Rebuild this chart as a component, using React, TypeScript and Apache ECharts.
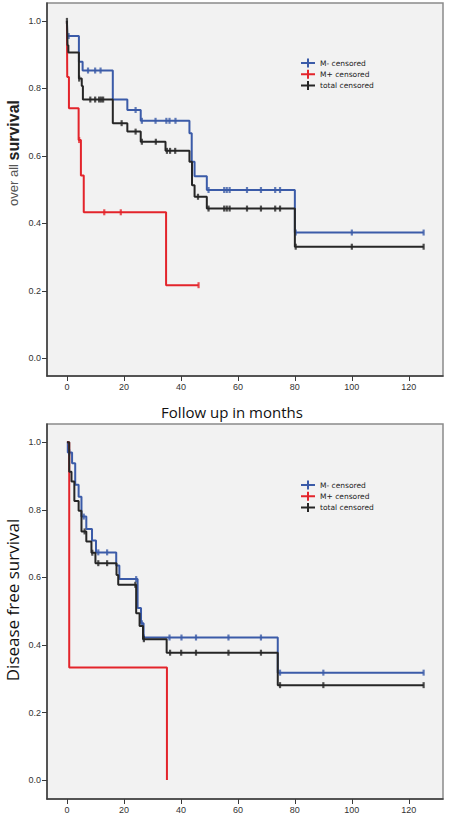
import React, { useEffect, useRef } from 'react';
import * as echarts from 'echarts';

const groupNames = ['M- censored', 'M+ censored', 'total censored'];
const groupColors = ['#3b5ba8', '#e3242b', '#262626'];
const xTickValues = [0, 20, 40, 60, 80, 100, 120];
const yTickValues = [0, 0.2, 0.4, 0.6, 0.8, 1.0];

// Overall survival (top chart)
const osMinusTimes = [0, 0.1, 4.2, 5.5, 16.1, 21.2, 25.9, 43.0, 43.8, 44.8, 49.1, 80.0, 125.2];
const osMinusSurv = [1, 0.955, 0.879, 0.853, 0.767, 0.736, 0.704, 0.667, 0.583, 0.54, 0.499, 0.373, 0.373];
const osMinusCensor = [0.6, 7.4, 9.9, 11.8, 24.1, 26.3, 31.1, 34.9, 36.0, 38.1, 49.7, 55.2, 56.1, 57.1, 63.2, 68.1, 73.1, 74.8, 80.3, 100.0, 125.2];

const osPlusTimes = [0, 0.1, 0.7, 4.1, 4.9, 5.9, 34.8, 46.2];
const osPlusSurv = [1, 0.834, 0.741, 0.647, 0.542, 0.433, 0.217, 0.217];
const osPlusCensor = [4.3, 13.1, 18.9, 46.2];

const osTotalTimes = [0, 0.2, 0.5, 4.2, 5.2, 5.6, 16.1, 21.2, 25.9, 34.6, 43.0, 43.9, 44.8, 49.1, 80.0, 125.2];
const osTotalSurv = [1, 0.928, 0.906, 0.829, 0.807, 0.767, 0.697, 0.672, 0.642, 0.615, 0.583, 0.513, 0.479, 0.444, 0.331, 0.331];
const osTotalCensor = [0, 4.3, 8.2, 9.9, 11.3, 12.0, 12.7, 19.2, 24.1, 26.3, 31.2, 35.1, 36.2, 38.0, 46.0, 49.7, 55.2, 56.1, 57.1, 63.2, 68.1, 73.1, 74.8, 80.3, 100.0, 125.2];

// Disease free survival (bottom chart)
const dfsMinusTimes = [0, 0.3, 1.8, 2.9, 4.1, 5.1, 6.8, 8.8, 10.2, 17.3, 18.4, 24.8, 26.0, 26.9, 74.0, 125.2];
const dfsMinusSurv = [1, 0.97, 0.938, 0.874, 0.839, 0.78, 0.743, 0.709, 0.674, 0.635, 0.595, 0.509, 0.464, 0.422, 0.318, 0.318];
const dfsMinusCensor = [0.8, 5.9, 11.0, 14.1, 24.3, 26.3, 27.0, 36.0, 40.2, 45.3, 56.7, 68.1, 74.8, 90.0, 125.2];

const dfsPlusTimes = [0, 0.8, 35.1];
const dfsPlusSurv = [1, 0.333, 0];
const dfsPlusCensor: number[] = [];

const dfsTotalTimes = [0, 0.8, 1.6, 2.6, 4.1, 5.1, 6.8, 8.6, 10.0, 17.4, 18.0, 24.3, 25.5, 26.7, 35.0, 74.0, 125.2];
const dfsTotalSurv = [1, 0.913, 0.884, 0.826, 0.797, 0.736, 0.706, 0.673, 0.642, 0.607, 0.578, 0.494, 0.456, 0.417, 0.377, 0.281, 0.281];
const dfsTotalCensor = [6.2, 8.9, 11.0, 14.1, 24.0, 27.0, 36.2, 40.1, 45.3, 56.7, 68.1, 74.8, 90.0, 125.2];

function stepAt(times: number[], surv: number[], t: number) {
  let v = surv[0];
  for (let i = 0; i < times.length; i++) if (times[i] <= t) v = surv[i];
  return v;
}

const charts = [
  {
    groups: [
      [osMinusTimes, osMinusSurv, osMinusCensor],
      [osPlusTimes, osPlusSurv, osPlusCensor],
      [osTotalTimes, osTotalSurv, osTotalCensor],
    ],
    grid: { left: 47, top: 3, width: 396, height: 373 },
    yMin: -0.052,
    yMax: 1.053,
    legendTop: 58.5,
  },
  {
    groups: [
      [dfsMinusTimes, dfsMinusSurv, dfsMinusCensor],
      [dfsPlusTimes, dfsPlusSurv, dfsPlusCensor],
      [dfsTotalTimes, dfsTotalSurv, dfsTotalCensor],
    ],
    grid: { left: 47, top: 424, width: 396, height: 375 },
    yMin: -0.056,
    yMax: 1.054,
    legendTop: 480.5,
  },
];

const axisColor = '#3a3a3a';
const labelStyle = { fontSize: 9, color: '#333', fontFamily: 'Liberation Sans' };

export default function App() {
  const ref = useRef<HTMLDivElement>(null);
  useEffect(() => {
    if (!ref.current) return;
    const chart = echarts.init(ref.current, null, { renderer: 'svg' });
    const series: any[] = [];
    charts.forEach((c, ci) => {
      c.groups.forEach((g, gi) => {
        const [times, surv, cens] = g as number[][];
        series.push({
          type: 'line',
          name: groupNames[gi],
          xAxisIndex: ci,
          yAxisIndex: ci,
          step: 'end',
          showSymbol: false,
          symbol: 'none',
          data: times.map((t, i) => [t, surv[i]]),
          lineStyle: { color: groupColors[gi], width: 2 },
          itemStyle: { color: groupColors[gi] },
          z: 2 + (gi === 2 ? 2 : gi === 1 ? 1 : 0),
          silent: true,
        });
        if (cens.length) {
          series.push({
            type: 'scatter',
            name: groupNames[gi] + ' marks',
            xAxisIndex: ci,
            yAxisIndex: ci,
            symbol: 'rect',
            symbolSize: [2.2, 6],
            data: cens.map((t) => [t, stepAt(times, surv, t)]),
            itemStyle: { color: groupColors[gi] },
            z: 3 + (gi === 2 ? 2 : gi === 1 ? 1 : 0),
            silent: true,
          });
        }
      });
    });

    chart.setOption({
      animation: false,
      backgroundColor: '#ffffff',
      grid: charts.map((c) => ({
        ...c.grid,
        show: true,
        backgroundColor: '#f2f2f2',
        borderColor: '#8a8a8a',
        borderWidth: 1.5,
      })),
      xAxis: charts.map((c, ci) => ({
        type: 'value',
        gridIndex: ci,
        min: -7,
        max: 132,
        axisLine: { show: true, onZero: false, lineStyle: { color: axisColor, width: 1.5 } },
        axisTick: { show: true, length: 5, customValues: xTickValues, lineStyle: { color: axisColor } },
        axisLabel: { customValues: xTickValues, margin: 6, ...labelStyle },
        splitLine: { show: false },
      })),
      yAxis: charts.map((c, ci) => ({
        type: 'value',
        gridIndex: ci,
        min: c.yMin,
        max: c.yMax,
        axisLine: { show: true, onZero: false, lineStyle: { color: axisColor, width: 1.5 } },
        axisTick: { show: true, length: 5, customValues: yTickValues, lineStyle: { color: axisColor } },
        axisLabel: {
          customValues: yTickValues,
          formatter: (v: number) => v.toFixed(1),
          margin: 6,
          ...labelStyle,
        },
        splitLine: { show: false },
      })),
      legend: charts.map((c) => ({
        data: groupNames,
        orient: 'vertical',
        left: 301,
        top: c.legendTop,
        padding: 0,
        itemWidth: 14,
        itemHeight: 9,
        itemGap: 2.3,
        selectedMode: false,
        icon: 'path://M0,3.5H14V5.5H0Z M6,0H8V9H6Z',
        itemStyle: { borderWidth: 0 },
        textStyle: { fontSize: 7.5, lineHeight: 9, fontFamily: 'DejaVu Sans', color: '#222' },
      })),
      graphic: [
        {
          type: 'text',
          x: 232,
          y: 412,
          style: {
            text: 'Follow up in months',
            fontSize: 15,
            fontFamily: 'Open Sans',
            fill: '#111',
            align: 'center',
            verticalAlign: 'middle',
          },
        },
        {
          type: 'text',
          x: 13,
          y: 153,
          rotation: Math.PI / 2,
          style: {
            text: '{a|over all }{b|survival}',
            rich: {
              a: { fontSize: 13, fontFamily: 'Liberation Sans', fill: '#555' },
              b: { fontSize: 16, fontFamily: 'Liberation Sans', fontWeight: 'bold', fill: '#222' },
            },
            align: 'center',
            verticalAlign: 'middle',
          },
        },
        {
          type: 'text',
          x: 12,
          y: 600,
          rotation: Math.PI / 2,
          style: {
            text: 'Disease free survival',
            fontSize: 17,
            fontFamily: 'Open Sans',
            fill: '#111',
            align: 'center',
            verticalAlign: 'middle',
          },
        },
      ],
      series,
    });
    return () => chart.dispose();
  }, []);
  return (
    <div
      ref={ref}
      style={{ position: 'absolute', left: 0, top: 0, width: 450, height: 818, background: '#fff' }}
    />
  );
}
